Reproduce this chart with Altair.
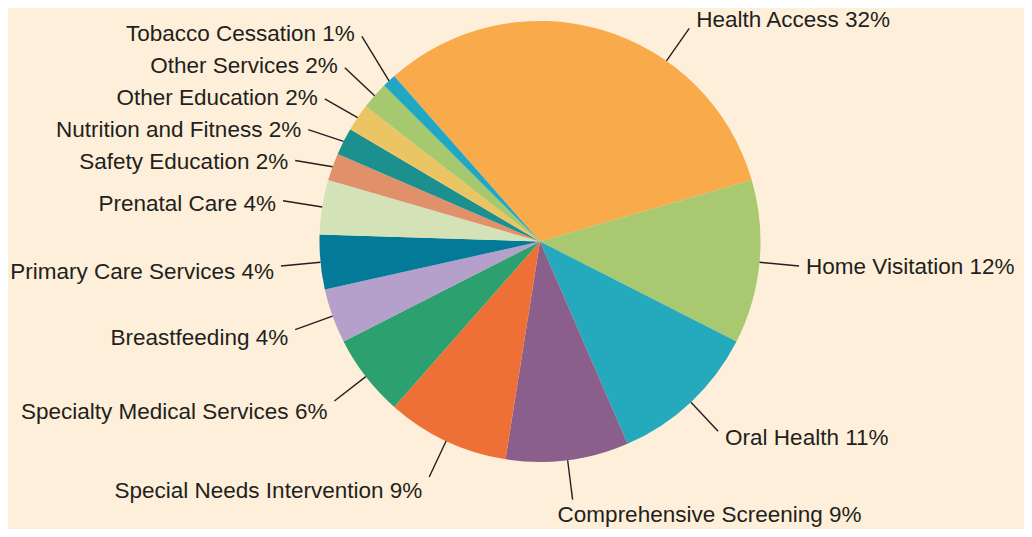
import math
import numpy as np
import altair as alt
import pandas as pd

# ---------------- data ----------------
categories = [
    "Health Access", "Home Visitation", "Oral Health", "Comprehensive Screening",
    "Special Needs Intervention", "Specialty Medical Services", "Breastfeeding",
    "Primary Care Services", "Prenatal Care", "Safety Education",
    "Nutrition and Fitness", "Other Education", "Other Services", "Tobacco Cessation",
]
shares = [32, 12, 11, 9, 9, 6, 4, 4, 4, 2, 2, 2, 2, 1]
colors = [
    "#F9AA4B", "#A8C970", "#25A9BC", "#8A5F8B",
    "#EE7036", "#2CA06E", "#B4A0CB",
    "#047A99", "#D3E2B7", "#E1916A",
    "#1B908F", "#EBC463", "#A6C86E", "#22A7C3",
]

# ---------------- layout ----------------
W, H = 1016, 521            # svg size (page has 8px margin)
CX, CY = 532.0, 233.5       # pie centre in svg pixels
R = 220.5                   # pie radius in px
START_DEG = -41.4           # angle where the first slice starts (clockwise from 12 o'clock)
TOP_CLEAR = 35              # labels are kept out of this half-wedge at the top
LEAD = 1.18                 # leader-line end, in pie radii
K_PX = 10                   # vertical push of a label away from the centre (px, scaled by cos)
GAP_PX = 7                  # horizontal gap between leader end and text
MIN_SEP = 32                # minimum vertical spacing between stacked labels (px)
LEFT_DROP = 5               # left-hand labels sit slightly below their leader ends
BOTTOM_DROP = 15            # labels hanging under the pie sit below their leader ends
BG = "#FDEFD9"
INK = "#231F20"
FONT = "Liberation Sans"
FS = 22.5

# ---------------- label geometry derived from the shares ----------------
vals = np.array(shares, dtype=float)
cum = np.cumsum(vals)
mid = START_DEG + 360.0 * (cum - vals / 2) / vals.sum()
lab = np.where(np.abs(mid) < TOP_CLEAR, np.sign(mid) * TOP_CLEAR, mid)
s = np.sin(np.radians(lab))
c = np.cos(np.radians(lab))

ex = CX + LEAD * R * s            # leader end, px
ey = CY - LEAD * R * c
bottom = np.abs(s) < 0.25         # labels hanging under the pie
side = np.where(bottom, "bottom", np.where(s >= 0, "right", "left"))
tx = np.where(bottom, ex - 15, ex + np.sign(s) * GAP_PX)
ty = np.where(bottom, ey + BOTTOM_DROP, ey - c * K_PX + np.where(s < 0, LEFT_DROP, 0))

# spread crowded labels on each side symmetrically (cluster centring)
for sd in ("left", "right"):
    ids = sorted([i for i in range(len(vals)) if side[i] == sd], key=lambda i: ty[i])
    groups = [[i] for i in ids]
    changed = True
    while changed:
        changed = False
        pos = {}
        for g in groups:
            centre = np.mean([ty[i] for i in g])
            first = centre - (len(g) - 1) * MIN_SEP / 2
            for k, i in enumerate(g):
                pos[i] = first + k * MIN_SEP
        for gi in range(len(groups) - 1):
            if pos[groups[gi + 1][0]] - pos[groups[gi][-1]] < MIN_SEP:
                groups[gi] = groups[gi] + groups[gi + 1]
                del groups[gi + 1]
                changed = True
                break
    for i in ids:
        d = pos[i] - ty[i]
        ty[i] += d
        ey[i] += d

df = pd.DataFrame({
    "idx": list(range(len(categories))),
    "category": categories,
    "share": shares,
    "label": [f"{k} {v}%" for k, v in zip(categories, shares)],
    "side": side,
    "x0": s, "y0": c,
    "x1": (ex - CX) / R, "y1": (CY - ey) / R,
    "tx": (tx - CX) / R, "ty": (CY - ty) / R,
})

xdom = [-CX / R, (W - CX) / R]
ydom = [-(H - CY) / R, CY / R]
xs = alt.Scale(domain=xdom, nice=False, zero=False)
ys = alt.Scale(domain=ydom, nice=False, zero=False)

a0 = math.radians(START_DEG)

pie = alt.Chart(df).mark_arc(outerRadius=R).encode(
    theta=alt.Theta("share:Q", stack=True, scale=alt.Scale(range=[a0, a0 + 2 * math.pi])),
    color=alt.Color("category:N", scale=alt.Scale(domain=categories, range=colors), legend=None),
    order=alt.Order("idx:Q"),
    x=alt.X(datum=0, scale=xs, axis=None),
    y=alt.Y(datum=0, scale=ys, axis=None),
)

leaders = alt.Chart(df).mark_rule(color=INK, strokeWidth=1.4).encode(
    x=alt.X("x0:Q", scale=xs, axis=None),
    y=alt.Y("y0:Q", scale=ys, axis=None),
    x2="x1:Q",
    y2="y1:Q",
)

text_kw = dict(font=FONT, fontSize=FS, color=INK, baseline="middle")


def labels(sd, align):
    return alt.Chart(df).transform_filter(f"datum.side == '{sd}'").mark_text(align=align, **text_kw).encode(
        x=alt.X("tx:Q", scale=xs, axis=None),
        y=alt.Y("ty:Q", scale=ys, axis=None),
        text="label:N",
    )


chart = (
    alt.layer(pie, leaders, labels("right", "left"), labels("left", "right"), labels("bottom", "left"))
    .properties(width=W, height=H, padding=0, autosize=alt.AutoSizeParams(type="none"), background=BG)
    .configure_view(strokeWidth=0)
)

chart.save("out.html", embed_options={"renderer": "svg", "actions": False})
